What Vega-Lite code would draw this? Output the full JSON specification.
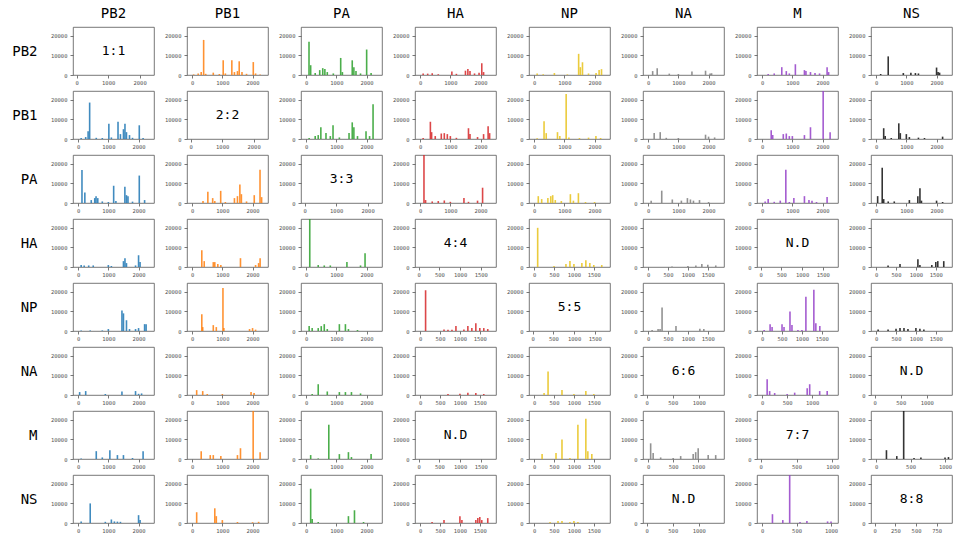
{
"$schema":"https://vega.github.io/schema/vega-lite/v6.json",
"autosize":{"type":"pad"},
"padding":{"left":11,"top":6,"right":0,"bottom":0},
"background":"white",
"columns":8,
"spacing":{"row":16,"column":33},
"bounds":"flush",
"data":{"values":[
{"r":"PB2","c":"PB2","t":"1:1"},{"r":"PB1","c":"PB1","t":"2:2"},{"r":"PA","c":"PA","t":"3:3"},{"r":"HA","c":"HA","t":"4:4"},{"r":"NP","c":"NP","t":"5:5"},{"r":"NA","c":"NA","t":"6:6"},{"r":"M","c":"M","t":"7:7"},{"r":"NS","c":"NS","t":"8:8"},
{"r":"HA","c":"M","t":"N.D"},{"r":"NA","c":"NS","t":"N.D"},{"r":"M","c":"HA","t":"N.D"},{"r":"NS","c":"NA","t":"N.D"},
{"r":"PB2","c":"PB1","x":50,"y":300},{"r":"PB2","c":"PB1","x":200,"y":800},{"r":"PB2","c":"PB1","x":300,"y":1500},{"r":"PB2","c":"PB1","x":381,"y":17900},{"r":"PB2","c":"PB1","x":450,"y":600},{"r":"PB2","c":"PB1","x":700,"y":1200},{"r":"PB2","c":"PB1","x":900,"y":500},{"r":"PB2","c":"PB1","x":1028,"y":7500},{"r":"PB2","c":"PB1","x":1100,"y":800},{"r":"PB2","c":"PB1","x":1314,"y":7500},{"r":"PB2","c":"PB1","x":1400,"y":1500},{"r":"PB2","c":"PB1","x":1500,"y":2000},{"r":"PB2","c":"PB1","x":1558,"y":7000},{"r":"PB2","c":"PB1","x":1650,"y":1500},{"r":"PB2","c":"PB1","x":1800,"y":600},{"r":"PB2","c":"PB1","x":2024,"y":6600},{"r":"PB2","c":"PB1","x":2100,"y":800},{"r":"PB2","c":"PB1","x":2250,"y":300},
{"r":"PB2","c":"PA","x":95,"y":17000},{"r":"PB2","c":"PA","x":150,"y":5000},{"r":"PB2","c":"PA","x":300,"y":1000},{"r":"PB2","c":"PA","x":450,"y":2500},{"r":"PB2","c":"PA","x":550,"y":3500},{"r":"PB2","c":"PA","x":620,"y":3000},{"r":"PB2","c":"PA","x":700,"y":1500},{"r":"PB2","c":"PA","x":900,"y":800},{"r":"PB2","c":"PA","x":1144,"y":8700},{"r":"PB2","c":"PA","x":1200,"y":1500},{"r":"PB2","c":"PA","x":1526,"y":7500},{"r":"PB2","c":"PA","x":1580,"y":4000},{"r":"PB2","c":"PA","x":1650,"y":2000},{"r":"PB2","c":"PA","x":1800,"y":800},{"r":"PB2","c":"PA","x":2003,"y":13000},{"r":"PB2","c":"PA","x":2150,"y":1000},
{"r":"PB2","c":"HA","x":100,"y":800},{"r":"PB2","c":"HA","x":250,"y":700},{"r":"PB2","c":"HA","x":400,"y":900},{"r":"PB2","c":"HA","x":600,"y":400},{"r":"PB2","c":"HA","x":1050,"y":1800},{"r":"PB2","c":"HA","x":1200,"y":600},{"r":"PB2","c":"HA","x":1500,"y":2200},{"r":"PB2","c":"HA","x":1580,"y":3000},{"r":"PB2","c":"HA","x":1650,"y":2000},{"r":"PB2","c":"HA","x":1800,"y":800},{"r":"PB2","c":"HA","x":1950,"y":1200},{"r":"PB2","c":"HA","x":2040,"y":6000},{"r":"PB2","c":"HA","x":2100,"y":1500},
{"r":"PB2","c":"NP","x":100,"y":800},{"r":"PB2","c":"NP","x":300,"y":400},{"r":"PB2","c":"NP","x":670,"y":1000},{"r":"PB2","c":"NP","x":1100,"y":300},{"r":"PB2","c":"NP","x":1473,"y":10800},{"r":"PB2","c":"NP","x":1530,"y":4000},{"r":"PB2","c":"NP","x":1600,"y":6500},{"r":"PB2","c":"NP","x":1800,"y":800},{"r":"PB2","c":"NP","x":2050,"y":1000},{"r":"PB2","c":"NP","x":2150,"y":2500},{"r":"PB2","c":"NP","x":2230,"y":3000},
{"r":"PB2","c":"NA","x":150,"y":2000},{"r":"PB2","c":"NA","x":300,"y":3500},{"r":"PB2","c":"NA","x":700,"y":700},{"r":"PB2","c":"NA","x":1000,"y":500},{"r":"PB2","c":"NA","x":1450,"y":1800},{"r":"PB2","c":"NA","x":1900,"y":2200},{"r":"PB2","c":"NA","x":2050,"y":800},{"r":"PB2","c":"NA","x":2100,"y":900},
{"r":"PB2","c":"M","x":200,"y":500},{"r":"PB2","c":"M","x":400,"y":800},{"r":"PB2","c":"M","x":650,"y":4000},{"r":"PB2","c":"M","x":800,"y":2000},{"r":"PB2","c":"M","x":900,"y":800},{"r":"PB2","c":"M","x":1100,"y":5500},{"r":"PB2","c":"M","x":1400,"y":2500},{"r":"PB2","c":"M","x":1450,"y":2000},{"r":"PB2","c":"M","x":1600,"y":1500},{"r":"PB2","c":"M","x":1750,"y":1000},{"r":"PB2","c":"M","x":1900,"y":800},{"r":"PB2","c":"M","x":2150,"y":4000},{"r":"PB2","c":"M","x":2200,"y":1500},
{"r":"PB2","c":"NS","x":150,"y":500},{"r":"PB2","c":"NS","x":400,"y":9500},{"r":"PB2","c":"NS","x":900,"y":1000},{"r":"PB2","c":"NS","x":1150,"y":1200},{"r":"PB2","c":"NS","x":1300,"y":1000},{"r":"PB2","c":"NS","x":1400,"y":800},{"r":"PB2","c":"NS","x":2000,"y":3800},{"r":"PB2","c":"NS","x":2050,"y":1500},{"r":"PB2","c":"NS","x":2100,"y":1200},
{"r":"PB1","c":"PB2","x":100,"y":500},{"r":"PB1","c":"PB2","x":250,"y":1000},{"r":"PB1","c":"PB2","x":330,"y":4000},{"r":"PB1","c":"PB2","x":381,"y":18600},{"r":"PB1","c":"PB2","x":600,"y":600},{"r":"PB1","c":"PB2","x":800,"y":500},{"r":"PB1","c":"PB2","x":1017,"y":7800},{"r":"PB1","c":"PB2","x":1100,"y":800},{"r":"PB1","c":"PB2","x":1320,"y":8800},{"r":"PB1","c":"PB2","x":1400,"y":2500},{"r":"PB1","c":"PB2","x":1500,"y":5000},{"r":"PB1","c":"PB2","x":1550,"y":7800},{"r":"PB1","c":"PB2","x":1600,"y":3500},{"r":"PB1","c":"PB2","x":1700,"y":2000},{"r":"PB1","c":"PB2","x":1800,"y":600},{"r":"PB1","c":"PB2","x":2024,"y":7000},{"r":"PB1","c":"PB2","x":2150,"y":500},
{"r":"PB1","c":"PA","x":100,"y":500},{"r":"PB1","c":"PA","x":300,"y":1500},{"r":"PB1","c":"PA","x":400,"y":2000},{"r":"PB1","c":"PA","x":487,"y":6000},{"r":"PB1","c":"PA","x":657,"y":3000},{"r":"PB1","c":"PA","x":800,"y":1500},{"r":"PB1","c":"PA","x":890,"y":7000},{"r":"PB1","c":"PA","x":1100,"y":800},{"r":"PB1","c":"PA","x":1420,"y":3000},{"r":"PB1","c":"PA","x":1526,"y":8500},{"r":"PB1","c":"PA","x":1580,"y":6000},{"r":"PB1","c":"PA","x":1700,"y":1500},{"r":"PB1","c":"PA","x":1982,"y":4000},{"r":"PB1","c":"PA","x":2100,"y":1500},{"r":"PB1","c":"PA","x":2215,"y":17700},
{"r":"PB1","c":"HA","x":100,"y":500},{"r":"PB1","c":"HA","x":339,"y":8800},{"r":"PB1","c":"HA","x":380,"y":3500},{"r":"PB1","c":"HA","x":500,"y":1500},{"r":"PB1","c":"HA","x":700,"y":2800},{"r":"PB1","c":"HA","x":800,"y":3000},{"r":"PB1","c":"HA","x":900,"y":2500},{"r":"PB1","c":"HA","x":1000,"y":1500},{"r":"PB1","c":"HA","x":1200,"y":600},{"r":"PB1","c":"HA","x":1600,"y":5500},{"r":"PB1","c":"HA","x":1650,"y":2500},{"r":"PB1","c":"HA","x":1900,"y":1000},{"r":"PB1","c":"HA","x":2100,"y":2500},{"r":"PB1","c":"HA","x":2250,"y":6500},{"r":"PB1","c":"HA","x":2300,"y":3000},
{"r":"PB1","c":"NP","x":100,"y":400},{"r":"PB1","c":"NP","x":328,"y":9100},{"r":"PB1","c":"NP","x":400,"y":3000},{"r":"PB1","c":"NP","x":773,"y":3500},{"r":"PB1","c":"NP","x":850,"y":1500},{"r":"PB1","c":"NP","x":1060,"y":23000},{"r":"PB1","c":"NP","x":1150,"y":800},{"r":"PB1","c":"NP","x":1500,"y":500},{"r":"PB1","c":"NP","x":1800,"y":700},{"r":"PB1","c":"NP","x":2045,"y":1500},{"r":"PB1","c":"NP","x":2200,"y":500},
{"r":"PB1","c":"NA","x":200,"y":3000},{"r":"PB1","c":"NA","x":400,"y":3500},{"r":"PB1","c":"NA","x":600,"y":600},{"r":"PB1","c":"NA","x":1000,"y":500},{"r":"PB1","c":"NA","x":1900,"y":2200},{"r":"PB1","c":"NA","x":2000,"y":1200},{"r":"PB1","c":"NA","x":2200,"y":800},
{"r":"PB1","c":"M","x":300,"y":4500},{"r":"PB1","c":"M","x":350,"y":2000},{"r":"PB1","c":"M","x":700,"y":2500},{"r":"PB1","c":"M","x":800,"y":2800},{"r":"PB1","c":"M","x":900,"y":1500},{"r":"PB1","c":"M","x":1000,"y":1500},{"r":"PB1","c":"M","x":1400,"y":2000},{"r":"PB1","c":"M","x":1600,"y":6000},{"r":"PB1","c":"M","x":2020,"y":25000},{"r":"PB1","c":"M","x":2250,"y":3500},
{"r":"PB1","c":"NS","x":250,"y":5500},{"r":"PB1","c":"NS","x":300,"y":1500},{"r":"PB1","c":"NS","x":500,"y":500},{"r":"PB1","c":"NS","x":750,"y":8000},{"r":"PB1","c":"NS","x":800,"y":3000},{"r":"PB1","c":"NS","x":1000,"y":2500},{"r":"PB1","c":"NS","x":1100,"y":1000},{"r":"PB1","c":"NS","x":1400,"y":700},{"r":"PB1","c":"NS","x":1600,"y":500},{"r":"PB1","c":"NS","x":2200,"y":1200},
{"r":"PA","c":"PB2","x":127,"y":16900},{"r":"PA","c":"PB2","x":222,"y":5300},{"r":"PA","c":"PB2","x":434,"y":1500},{"r":"PA","c":"PB2","x":550,"y":2500},{"r":"PA","c":"PB2","x":593,"y":3500},{"r":"PA","c":"PB2","x":650,"y":2500},{"r":"PA","c":"PB2","x":800,"y":800},{"r":"PA","c":"PB2","x":1000,"y":500},{"r":"PA","c":"PB2","x":1176,"y":8800},{"r":"PA","c":"PB2","x":1250,"y":1000},{"r":"PA","c":"PB2","x":1547,"y":8300},{"r":"PA","c":"PB2","x":1600,"y":4000},{"r":"PA","c":"PB2","x":1650,"y":3500},{"r":"PA","c":"PB2","x":1800,"y":700},{"r":"PA","c":"PB2","x":2024,"y":14000},{"r":"PA","c":"PB2","x":2200,"y":1500},
{"r":"PA","c":"PB1","x":360,"y":1000},{"r":"PA","c":"PB1","x":520,"y":5700},{"r":"PA","c":"PB1","x":680,"y":2500},{"r":"PA","c":"PB1","x":750,"y":1000},{"r":"PA","c":"PB1","x":945,"y":6200},{"r":"PA","c":"PB1","x":1100,"y":500},{"r":"PA","c":"PB1","x":1400,"y":2500},{"r":"PA","c":"PB1","x":1500,"y":3500},{"r":"PA","c":"PB1","x":1580,"y":9500},{"r":"PA","c":"PB1","x":1630,"y":4500},{"r":"PA","c":"PB1","x":1800,"y":800},{"r":"PA","c":"PB1","x":2056,"y":4000},{"r":"PA","c":"PB1","x":2247,"y":17000},{"r":"PA","c":"PB1","x":2300,"y":3000},
{"r":"PA","c":"HA","x":127,"y":25000},{"r":"PA","c":"HA","x":180,"y":1500},{"r":"PA","c":"HA","x":400,"y":800},{"r":"PA","c":"HA","x":600,"y":1000},{"r":"PA","c":"HA","x":800,"y":1300},{"r":"PA","c":"HA","x":1000,"y":600},{"r":"PA","c":"HA","x":1450,"y":2500},{"r":"PA","c":"HA","x":1600,"y":600},{"r":"PA","c":"HA","x":1900,"y":1200},{"r":"PA","c":"HA","x":2067,"y":7800},
{"r":"PA","c":"NP","x":137,"y":3500},{"r":"PA","c":"NP","x":250,"y":2000},{"r":"PA","c":"NP","x":455,"y":2500},{"r":"PA","c":"NP","x":550,"y":3500},{"r":"PA","c":"NP","x":614,"y":4000},{"r":"PA","c":"NP","x":700,"y":1500},{"r":"PA","c":"NP","x":900,"y":1000},{"r":"PA","c":"NP","x":1200,"y":4500},{"r":"PA","c":"NP","x":1300,"y":1200},{"r":"PA","c":"NP","x":1465,"y":5000},{"r":"PA","c":"NP","x":1700,"y":500},{"r":"PA","c":"NP","x":2000,"y":500},
{"r":"PA","c":"NA","x":100,"y":1200},{"r":"PA","c":"NA","x":450,"y":6300},{"r":"PA","c":"NA","x":800,"y":1800},{"r":"PA","c":"NA","x":1100,"y":1200},{"r":"PA","c":"NA","x":1300,"y":2500},{"r":"PA","c":"NA","x":1400,"y":1800},{"r":"PA","c":"NA","x":1500,"y":1200},{"r":"PA","c":"NA","x":1700,"y":1500},{"r":"PA","c":"NA","x":2000,"y":500},
{"r":"PA","c":"M","x":100,"y":800},{"r":"PA","c":"M","x":200,"y":2000},{"r":"PA","c":"M","x":400,"y":600},{"r":"PA","c":"M","x":600,"y":1200},{"r":"PA","c":"M","x":784,"y":17000},{"r":"PA","c":"M","x":900,"y":500},{"r":"PA","c":"M","x":1050,"y":2500},{"r":"PA","c":"M","x":1400,"y":3500},{"r":"PA","c":"M","x":1550,"y":1500},{"r":"PA","c":"M","x":1650,"y":1200},{"r":"PA","c":"M","x":1800,"y":500},{"r":"PA","c":"M","x":2150,"y":3000},
{"r":"PA","c":"NS","x":50,"y":3500},{"r":"PA","c":"NS","x":201,"y":18000},{"r":"PA","c":"NS","x":250,"y":2000},{"r":"PA","c":"NS","x":400,"y":800},{"r":"PA","c":"NS","x":600,"y":800},{"r":"PA","c":"NS","x":1100,"y":1500},{"r":"PA","c":"NS","x":1380,"y":3500},{"r":"PA","c":"NS","x":1450,"y":7500},{"r":"PA","c":"NS","x":1500,"y":1200},{"r":"PA","c":"NS","x":2000,"y":1200},{"r":"PA","c":"NS","x":2200,"y":500},
{"r":"HA","c":"PB2","x":100,"y":1000},{"r":"HA","c":"PB2","x":200,"y":800},{"r":"HA","c":"PB2","x":350,"y":800},{"r":"HA","c":"PB2","x":500,"y":800},{"r":"HA","c":"PB2","x":1000,"y":1000},{"r":"HA","c":"PB2","x":1100,"y":500},{"r":"HA","c":"PB2","x":1500,"y":3000},{"r":"HA","c":"PB2","x":1550,"y":4500},{"r":"HA","c":"PB2","x":1600,"y":2000},{"r":"HA","c":"PB2","x":1900,"y":800},{"r":"HA","c":"PB2","x":2000,"y":6000},{"r":"HA","c":"PB2","x":2050,"y":2500},
{"r":"HA","c":"PB1","x":320,"y":8500},{"r":"HA","c":"PB1","x":400,"y":3000},{"r":"HA","c":"PB1","x":700,"y":2500},{"r":"HA","c":"PB1","x":750,"y":2500},{"r":"HA","c":"PB1","x":850,"y":1500},{"r":"HA","c":"PB1","x":950,"y":1000},{"r":"HA","c":"PB1","x":1600,"y":4500},{"r":"HA","c":"PB1","x":2100,"y":1000},{"r":"HA","c":"PB1","x":2200,"y":2000},{"r":"HA","c":"PB1","x":2250,"y":4500},
{"r":"HA","c":"PA","x":120,"y":25000},{"r":"HA","c":"PA","x":400,"y":1000},{"r":"HA","c":"PA","x":600,"y":800},{"r":"HA","c":"PA","x":800,"y":800},{"r":"HA","c":"PA","x":1350,"y":2500},{"r":"HA","c":"PA","x":1800,"y":800},{"r":"HA","c":"PA","x":1950,"y":7000},
{"r":"HA","c":"NP","x":89,"y":20000},{"r":"HA","c":"NP","x":500,"y":500},{"r":"HA","c":"NP","x":800,"y":1500},{"r":"HA","c":"NP","x":900,"y":3000},{"r":"HA","c":"NP","x":1000,"y":1500},{"r":"HA","c":"NP","x":1200,"y":2000},{"r":"HA","c":"NP","x":1300,"y":3500},{"r":"HA","c":"NP","x":1400,"y":2000},{"r":"HA","c":"NP","x":1500,"y":1000},{"r":"HA","c":"NP","x":1700,"y":1000},
{"r":"HA","c":"NA","x":600,"y":300},{"r":"HA","c":"NA","x":1000,"y":500},{"r":"HA","c":"NA","x":1200,"y":800},{"r":"HA","c":"NA","x":1350,"y":1500},{"r":"HA","c":"NA","x":1500,"y":1200},{"r":"HA","c":"NA","x":1700,"y":800},
{"r":"HA","c":"NS","x":300,"y":800},{"r":"HA","c":"NS","x":600,"y":1500},{"r":"HA","c":"NS","x":1050,"y":4000},{"r":"HA","c":"NS","x":1100,"y":1000},{"r":"HA","c":"NS","x":1400,"y":1000},{"r":"HA","c":"NS","x":1500,"y":2500},{"r":"HA","c":"NS","x":1550,"y":3000},{"r":"HA","c":"NS","x":1700,"y":3000},
{"r":"NP","c":"PB2","x":100,"y":300},{"r":"NP","c":"PB2","x":400,"y":300},{"r":"NP","c":"PB2","x":800,"y":300},{"r":"NP","c":"PB2","x":1000,"y":1000},{"r":"NP","c":"PB2","x":1450,"y":10500},{"r":"NP","c":"PB2","x":1500,"y":9000},{"r":"NP","c":"PB2","x":1600,"y":5500},{"r":"NP","c":"PB2","x":1700,"y":1000},{"r":"NP","c":"PB2","x":1900,"y":1000},{"r":"NP","c":"PB2","x":2000,"y":1500},{"r":"NP","c":"PB2","x":2200,"y":3500},{"r":"NP","c":"PB2","x":2250,"y":3500},
{"r":"NP","c":"PB1","x":320,"y":8500},{"r":"NP","c":"PB1","x":350,"y":2000},{"r":"NP","c":"PB1","x":700,"y":3000},{"r":"NP","c":"PB1","x":800,"y":2000},{"r":"NP","c":"PB1","x":1020,"y":22000},{"r":"NP","c":"PB1","x":1050,"y":1500},{"r":"NP","c":"PB1","x":1900,"y":1000},{"r":"NP","c":"PB1","x":2000,"y":1500},{"r":"NP","c":"PB1","x":2100,"y":700},
{"r":"NP","c":"PA","x":100,"y":2500},{"r":"NP","c":"PA","x":200,"y":1500},{"r":"NP","c":"PA","x":400,"y":1500},{"r":"NP","c":"PA","x":500,"y":2500},{"r":"NP","c":"PA","x":600,"y":3500},{"r":"NP","c":"PA","x":700,"y":1000},{"r":"NP","c":"PA","x":1100,"y":3500},{"r":"NP","c":"PA","x":1300,"y":3500},{"r":"NP","c":"PA","x":1400,"y":1000},{"r":"NP","c":"PA","x":1700,"y":500},
{"r":"NP","c":"HA","x":137,"y":20800},{"r":"NP","c":"HA","x":600,"y":800},{"r":"NP","c":"HA","x":700,"y":600},{"r":"NP","c":"HA","x":800,"y":700},{"r":"NP","c":"HA","x":900,"y":2500},{"r":"NP","c":"HA","x":1100,"y":800},{"r":"NP","c":"HA","x":1200,"y":2500},{"r":"NP","c":"HA","x":1300,"y":1500},{"r":"NP","c":"HA","x":1400,"y":4000},{"r":"NP","c":"HA","x":1500,"y":1500},{"r":"NP","c":"HA","x":1600,"y":1500},{"r":"NP","c":"HA","x":1700,"y":1000},
{"r":"NP","c":"NA","x":100,"y":500},{"r":"NP","c":"NA","x":250,"y":1000},{"r":"NP","c":"NA","x":300,"y":1000},{"r":"NP","c":"NA","x":350,"y":12000},{"r":"NP","c":"NA","x":700,"y":2500},{"r":"NP","c":"NA","x":1300,"y":1200},{"r":"NP","c":"NA","x":1400,"y":1000},
{"r":"NP","c":"M","x":50,"y":500},{"r":"NP","c":"M","x":200,"y":3500},{"r":"NP","c":"M","x":250,"y":2000},{"r":"NP","c":"M","x":500,"y":3500},{"r":"NP","c":"M","x":550,"y":2000},{"r":"NP","c":"M","x":700,"y":10000},{"r":"NP","c":"M","x":750,"y":3000},{"r":"NP","c":"M","x":900,"y":500},{"r":"NP","c":"M","x":1000,"y":500},{"r":"NP","c":"M","x":1100,"y":17500},{"r":"NP","c":"M","x":1300,"y":21000},{"r":"NP","c":"M","x":1350,"y":4000},{"r":"NP","c":"M","x":1450,"y":2500},
{"r":"NP","c":"NS","x":50,"y":800},{"r":"NP","c":"NS","x":300,"y":800},{"r":"NP","c":"NS","x":500,"y":1200},{"r":"NP","c":"NS","x":600,"y":1500},{"r":"NP","c":"NS","x":700,"y":1500},{"r":"NP","c":"NS","x":800,"y":1000},{"r":"NP","c":"NS","x":1000,"y":1500},{"r":"NP","c":"NS","x":1100,"y":1200},{"r":"NP","c":"NS","x":1200,"y":800},
{"r":"NA","c":"PB2","x":50,"y":1500},{"r":"NA","c":"PB2","x":250,"y":2000},{"r":"NA","c":"PB2","x":900,"y":500},{"r":"NA","c":"PB2","x":1450,"y":1800},{"r":"NA","c":"PB2","x":1900,"y":2000},{"r":"NA","c":"PB2","x":2000,"y":600},{"r":"NA","c":"PB2","x":2100,"y":800},
{"r":"NA","c":"PB1","x":150,"y":2500},{"r":"NA","c":"PB1","x":350,"y":2000},{"r":"NA","c":"PB1","x":500,"y":500},{"r":"NA","c":"PB1","x":1000,"y":500},{"r":"NA","c":"PB1","x":1950,"y":1500},{"r":"NA","c":"PB1","x":2050,"y":1000},
{"r":"NA","c":"PA","x":200,"y":500},{"r":"NA","c":"PA","x":400,"y":5500},{"r":"NA","c":"PA","x":700,"y":1800},{"r":"NA","c":"PA","x":1100,"y":1500},{"r":"NA","c":"PA","x":1300,"y":1500},{"r":"NA","c":"PA","x":1500,"y":1500},{"r":"NA","c":"PA","x":1800,"y":800},
{"r":"NA","c":"HA","x":700,"y":500},{"r":"NA","c":"HA","x":1000,"y":600},{"r":"NA","c":"HA","x":1200,"y":1200},{"r":"NA","c":"HA","x":1400,"y":1000},{"r":"NA","c":"HA","x":1600,"y":500},
{"r":"NA","c":"NP","x":250,"y":1000},{"r":"NA","c":"NP","x":350,"y":12000},{"r":"NA","c":"NP","x":700,"y":2500},{"r":"NA","c":"NP","x":1000,"y":500},{"r":"NA","c":"NP","x":1300,"y":2000},{"r":"NA","c":"NP","x":1500,"y":500},
{"r":"NA","c":"M","x":100,"y":8000},{"r":"NA","c":"M","x":150,"y":2000},{"r":"NA","c":"M","x":250,"y":1000},{"r":"NA","c":"M","x":500,"y":500},{"r":"NA","c":"M","x":650,"y":1200},{"r":"NA","c":"M","x":900,"y":3500},{"r":"NA","c":"M","x":950,"y":5500},{"r":"NA","c":"M","x":1150,"y":2000},{"r":"NA","c":"M","x":1300,"y":2000},
{"r":"M","c":"PB2","x":100,"y":300},{"r":"M","c":"PB2","x":600,"y":4000},{"r":"M","c":"PB2","x":800,"y":800},{"r":"M","c":"PB2","x":1050,"y":4500},{"r":"M","c":"PB2","x":1300,"y":2000},{"r":"M","c":"PB2","x":1500,"y":2000},{"r":"M","c":"PB2","x":1800,"y":500},{"r":"M","c":"PB2","x":2150,"y":4000},
{"r":"M","c":"PB1","x":300,"y":4000},{"r":"M","c":"PB1","x":600,"y":2000},{"r":"M","c":"PB1","x":700,"y":2000},{"r":"M","c":"PB1","x":950,"y":1500},{"r":"M","c":"PB1","x":1500,"y":2000},{"r":"M","c":"PB1","x":1600,"y":5500},{"r":"M","c":"PB1","x":2020,"y":25000},{"r":"M","c":"PB1","x":2250,"y":3500},
{"r":"M","c":"PA","x":150,"y":2000},{"r":"M","c":"PA","x":400,"y":300},{"r":"M","c":"PA","x":750,"y":17500},{"r":"M","c":"PA","x":1100,"y":2500},{"r":"M","c":"PA","x":1400,"y":3500},{"r":"M","c":"PA","x":1500,"y":1000},{"r":"M","c":"PA","x":2150,"y":2500},
{"r":"M","c":"NP","x":200,"y":2500},{"r":"M","c":"NP","x":550,"y":3000},{"r":"M","c":"NP","x":700,"y":10000},{"r":"M","c":"NP","x":900,"y":500},{"r":"M","c":"NP","x":1100,"y":17500},{"r":"M","c":"NP","x":1300,"y":20500},{"r":"M","c":"NP","x":1350,"y":4000},{"r":"M","c":"NP","x":1450,"y":2500},
{"r":"M","c":"NA","x":50,"y":8000},{"r":"M","c":"NA","x":100,"y":3000},{"r":"M","c":"NA","x":250,"y":800},{"r":"M","c":"NA","x":500,"y":500},{"r":"M","c":"NA","x":650,"y":1500},{"r":"M","c":"NA","x":900,"y":2500},{"r":"M","c":"NA","x":950,"y":3500},{"r":"M","c":"NA","x":1000,"y":5500},{"r":"M","c":"NA","x":1200,"y":2000},{"r":"M","c":"NA","x":1350,"y":2000},
{"r":"M","c":"NS","x":150,"y":4500},{"r":"M","c":"NS","x":300,"y":1500},{"r":"M","c":"NS","x":400,"y":25000},{"r":"M","c":"NS","x":550,"y":500},{"r":"M","c":"NS","x":650,"y":800},{"r":"M","c":"NS","x":1000,"y":800},{"r":"M","c":"NS","x":1050,"y":1000},
{"r":"NS","c":"PB2","x":100,"y":800},{"r":"NS","c":"PB2","x":400,"y":10000},{"r":"NS","c":"PB2","x":900,"y":600},{"r":"NS","c":"PB2","x":1100,"y":1800},{"r":"NS","c":"PB2","x":1200,"y":800},{"r":"NS","c":"PB2","x":1300,"y":700},{"r":"NS","c":"PB2","x":1400,"y":600},{"r":"NS","c":"PB2","x":2000,"y":4000},{"r":"NS","c":"PB2","x":2050,"y":1500},
{"r":"NS","c":"PB1","x":150,"y":5500},{"r":"NS","c":"PB1","x":750,"y":7500},{"r":"NS","c":"PB1","x":800,"y":3500},{"r":"NS","c":"PB1","x":1000,"y":1500},{"r":"NS","c":"PB1","x":1500,"y":500},{"r":"NS","c":"PB1","x":2000,"y":400},{"r":"NS","c":"PB1","x":2200,"y":600},
{"r":"NS","c":"PA","x":150,"y":17500},{"r":"NS","c":"PA","x":200,"y":2000},{"r":"NS","c":"PA","x":400,"y":500},{"r":"NS","c":"PA","x":1400,"y":3500},{"r":"NS","c":"PA","x":1600,"y":6500},{"r":"NS","c":"PA","x":1900,"y":500},
{"r":"NS","c":"HA","x":300,"y":500},{"r":"NS","c":"HA","x":600,"y":1500},{"r":"NS","c":"HA","x":1000,"y":3500},{"r":"NS","c":"HA","x":1050,"y":1500},{"r":"NS","c":"HA","x":1400,"y":1500},{"r":"NS","c":"HA","x":1450,"y":2500},{"r":"NS","c":"HA","x":1500,"y":3000},{"r":"NS","c":"HA","x":1550,"y":1500},{"r":"NS","c":"HA","x":1700,"y":2500},
{"r":"NS","c":"NP","x":400,"y":500},{"r":"NS","c":"NP","x":600,"y":1000},{"r":"NS","c":"NP","x":700,"y":1000},{"r":"NS","c":"NP","x":900,"y":500},{"r":"NS","c":"NP","x":1000,"y":1000},{"r":"NS","c":"NP","x":1100,"y":500},
{"r":"NS","c":"M","x":150,"y":4500},{"r":"NS","c":"M","x":300,"y":1500},{"r":"NS","c":"M","x":400,"y":25000},{"r":"NS","c":"M","x":550,"y":500},{"r":"NS","c":"M","x":650,"y":1000},{"r":"NS","c":"M","x":950,"y":800},{"r":"NS","c":"M","x":1000,"y":800}
]},
"concat":[
{"title":"PB2","transform":[{"filter":"datum.r=='PB2'&&datum.c=='PB2'"}],"mark":{"type":"text","fontSize":13,"font":"DejaVu Sans Mono"},"encoding":{"text":{"field":"t"},"x":{"datum":1170,"type":"quantitative","scale":{"domain":[-117,2458],"nice":false},"axis":{"values":[0,1000,2000],"title":null}},"y":{"datum":12250,"type":"quantitative","scale":{"domain":[0,24500],"nice":false},"axis":{"title":"PB2"}}}},
{"title":"PB1","transform":[{"filter":"datum.r=='PB2'&&datum.c=='PB1'"}],"mark":{"type":"bar","color":"#ff7f0e","clip":true},"encoding":{"x":{"field":"x","type":"quantitative","scale":{"domain":[-117,2458],"nice":false},"axis":{"values":[0,1000,2000],"title":null}},"y":{"field":"y","type":"quantitative","scale":{"domain":[0,24500],"nice":false},"axis":{"title":null}}}},
{"title":"PA","transform":[{"filter":"datum.r=='PB2'&&datum.c=='PA'"}],"mark":{"type":"bar","color":"#2ca02c","clip":true},"encoding":{"x":{"field":"x","type":"quantitative","scale":{"domain":[-117,2458],"nice":false},"axis":{"values":[0,1000,2000],"title":null}},"y":{"field":"y","type":"quantitative","scale":{"domain":[0,24500],"nice":false},"axis":{"title":null}}}},
{"title":"HA","transform":[{"filter":"datum.r=='PB2'&&datum.c=='HA'"}],"mark":{"type":"bar","color":"#d62728","clip":true},"encoding":{"x":{"field":"x","type":"quantitative","scale":{"domain":[-117,2458],"nice":false},"axis":{"values":[0,1000,2000],"title":null}},"y":{"field":"y","type":"quantitative","scale":{"domain":[0,24500],"nice":false},"axis":{"title":null}}}},
{"title":"NP","transform":[{"filter":"datum.r=='PB2'&&datum.c=='NP'"}],"mark":{"type":"bar","color":"#e8c21a","clip":true},"encoding":{"x":{"field":"x","type":"quantitative","scale":{"domain":[-117,2458],"nice":false},"axis":{"values":[0,1000,2000],"title":null}},"y":{"field":"y","type":"quantitative","scale":{"domain":[0,24500],"nice":false},"axis":{"title":null}}}},
{"title":"NA","transform":[{"filter":"datum.r=='PB2'&&datum.c=='NA'"}],"mark":{"type":"bar","color":"#7f7f7f","clip":true},"encoding":{"x":{"field":"x","type":"quantitative","scale":{"domain":[-117,2458],"nice":false},"axis":{"values":[0,1000,2000],"title":null}},"y":{"field":"y","type":"quantitative","scale":{"domain":[0,24500],"nice":false},"axis":{"title":null}}}},
{"title":"M","transform":[{"filter":"datum.r=='PB2'&&datum.c=='M'"}],"mark":{"type":"bar","color":"#9440c8","clip":true},"encoding":{"x":{"field":"x","type":"quantitative","scale":{"domain":[-117,2458],"nice":false},"axis":{"values":[0,1000,2000],"title":null}},"y":{"field":"y","type":"quantitative","scale":{"domain":[0,24500],"nice":false},"axis":{"title":null}}}},
{"title":"NS","transform":[{"filter":"datum.r=='PB2'&&datum.c=='NS'"}],"mark":{"type":"bar","color":"#111111","clip":true},"encoding":{"x":{"field":"x","type":"quantitative","scale":{"domain":[-117,2458],"nice":false},"axis":{"values":[0,1000,2000],"title":null}},"y":{"field":"y","type":"quantitative","scale":{"domain":[0,24500],"nice":false},"axis":{"title":null}}}},

{"transform":[{"filter":"datum.r=='PB1'&&datum.c=='PB2'"}],"mark":{"type":"bar","color":"#1f77b4","clip":true},"encoding":{"x":{"field":"x","type":"quantitative","scale":{"domain":[-117,2458],"nice":false},"axis":{"values":[0,1000,2000],"title":null}},"y":{"field":"y","type":"quantitative","scale":{"domain":[0,24500],"nice":false},"axis":{"title":"PB1"}}}},
{"transform":[{"filter":"datum.r=='PB1'&&datum.c=='PB1'"}],"mark":{"type":"text","fontSize":13,"font":"DejaVu Sans Mono"},"encoding":{"text":{"field":"t"},"x":{"datum":1170,"type":"quantitative","scale":{"domain":[-117,2458],"nice":false},"axis":{"values":[0,1000,2000],"title":null}},"y":{"datum":12250,"type":"quantitative","scale":{"domain":[0,24500],"nice":false},"axis":{"title":null}}}},
{"transform":[{"filter":"datum.r=='PB1'&&datum.c=='PA'"}],"mark":{"type":"bar","color":"#2ca02c","clip":true},"encoding":{"x":{"field":"x","type":"quantitative","scale":{"domain":[-117,2458],"nice":false},"axis":{"values":[0,1000,2000],"title":null}},"y":{"field":"y","type":"quantitative","scale":{"domain":[0,24500],"nice":false},"axis":{"title":null}}}},
{"transform":[{"filter":"datum.r=='PB1'&&datum.c=='HA'"}],"mark":{"type":"bar","color":"#d62728","clip":true},"encoding":{"x":{"field":"x","type":"quantitative","scale":{"domain":[-117,2458],"nice":false},"axis":{"values":[0,1000,2000],"title":null}},"y":{"field":"y","type":"quantitative","scale":{"domain":[0,24500],"nice":false},"axis":{"title":null}}}},
{"transform":[{"filter":"datum.r=='PB1'&&datum.c=='NP'"}],"mark":{"type":"bar","color":"#e8c21a","clip":true},"encoding":{"x":{"field":"x","type":"quantitative","scale":{"domain":[-117,2458],"nice":false},"axis":{"values":[0,1000,2000],"title":null}},"y":{"field":"y","type":"quantitative","scale":{"domain":[0,24500],"nice":false},"axis":{"title":null}}}},
{"transform":[{"filter":"datum.r=='PB1'&&datum.c=='NA'"}],"mark":{"type":"bar","color":"#7f7f7f","clip":true},"encoding":{"x":{"field":"x","type":"quantitative","scale":{"domain":[-117,2458],"nice":false},"axis":{"values":[0,1000,2000],"title":null}},"y":{"field":"y","type":"quantitative","scale":{"domain":[0,24500],"nice":false},"axis":{"title":null}}}},
{"transform":[{"filter":"datum.r=='PB1'&&datum.c=='M'"}],"mark":{"type":"bar","color":"#9440c8","clip":true},"encoding":{"x":{"field":"x","type":"quantitative","scale":{"domain":[-117,2458],"nice":false},"axis":{"values":[0,1000,2000],"title":null}},"y":{"field":"y","type":"quantitative","scale":{"domain":[0,24500],"nice":false},"axis":{"title":null}}}},
{"transform":[{"filter":"datum.r=='PB1'&&datum.c=='NS'"}],"mark":{"type":"bar","color":"#111111","clip":true},"encoding":{"x":{"field":"x","type":"quantitative","scale":{"domain":[-117,2458],"nice":false},"axis":{"values":[0,1000,2000],"title":null}},"y":{"field":"y","type":"quantitative","scale":{"domain":[0,24500],"nice":false},"axis":{"title":null}}}},

{"transform":[{"filter":"datum.r=='PA'&&datum.c=='PB2'"}],"mark":{"type":"bar","color":"#1f77b4","clip":true},"encoding":{"x":{"field":"x","type":"quantitative","scale":{"domain":[-117,2458],"nice":false},"axis":{"values":[0,1000,2000],"title":null}},"y":{"field":"y","type":"quantitative","scale":{"domain":[0,24500],"nice":false},"axis":{"title":"PA"}}}},
{"transform":[{"filter":"datum.r=='PA'&&datum.c=='PB1'"}],"mark":{"type":"bar","color":"#ff7f0e","clip":true},"encoding":{"x":{"field":"x","type":"quantitative","scale":{"domain":[-117,2458],"nice":false},"axis":{"values":[0,1000,2000],"title":null}},"y":{"field":"y","type":"quantitative","scale":{"domain":[0,24500],"nice":false},"axis":{"title":null}}}},
{"transform":[{"filter":"datum.r=='PA'&&datum.c=='PA'"}],"mark":{"type":"text","fontSize":13,"font":"DejaVu Sans Mono"},"encoding":{"text":{"field":"t"},"x":{"datum":1170,"type":"quantitative","scale":{"domain":[-117,2458],"nice":false},"axis":{"values":[0,1000,2000],"title":null}},"y":{"datum":12250,"type":"quantitative","scale":{"domain":[0,24500],"nice":false},"axis":{"title":null}}}},
{"transform":[{"filter":"datum.r=='PA'&&datum.c=='HA'"}],"mark":{"type":"bar","color":"#d62728","clip":true},"encoding":{"x":{"field":"x","type":"quantitative","scale":{"domain":[-117,2458],"nice":false},"axis":{"values":[0,1000,2000],"title":null}},"y":{"field":"y","type":"quantitative","scale":{"domain":[0,24500],"nice":false},"axis":{"title":null}}}},
{"transform":[{"filter":"datum.r=='PA'&&datum.c=='NP'"}],"mark":{"type":"bar","color":"#e8c21a","clip":true},"encoding":{"x":{"field":"x","type":"quantitative","scale":{"domain":[-117,2458],"nice":false},"axis":{"values":[0,1000,2000],"title":null}},"y":{"field":"y","type":"quantitative","scale":{"domain":[0,24500],"nice":false},"axis":{"title":null}}}},
{"transform":[{"filter":"datum.r=='PA'&&datum.c=='NA'"}],"mark":{"type":"bar","color":"#7f7f7f","clip":true},"encoding":{"x":{"field":"x","type":"quantitative","scale":{"domain":[-117,2458],"nice":false},"axis":{"values":[0,1000,2000],"title":null}},"y":{"field":"y","type":"quantitative","scale":{"domain":[0,24500],"nice":false},"axis":{"title":null}}}},
{"transform":[{"filter":"datum.r=='PA'&&datum.c=='M'"}],"mark":{"type":"bar","color":"#9440c8","clip":true},"encoding":{"x":{"field":"x","type":"quantitative","scale":{"domain":[-117,2458],"nice":false},"axis":{"values":[0,1000,2000],"title":null}},"y":{"field":"y","type":"quantitative","scale":{"domain":[0,24500],"nice":false},"axis":{"title":null}}}},
{"transform":[{"filter":"datum.r=='PA'&&datum.c=='NS'"}],"mark":{"type":"bar","color":"#111111","clip":true},"encoding":{"x":{"field":"x","type":"quantitative","scale":{"domain":[-117,2458],"nice":false},"axis":{"values":[0,1000,2000],"title":null}},"y":{"field":"y","type":"quantitative","scale":{"domain":[0,24500],"nice":false},"axis":{"title":null}}}},

{"transform":[{"filter":"datum.r=='HA'&&datum.c=='PB2'"}],"mark":{"type":"bar","color":"#1f77b4","clip":true},"encoding":{"x":{"field":"x","type":"quantitative","scale":{"domain":[-117,2458],"nice":false},"axis":{"values":[0,1000,2000],"title":null}},"y":{"field":"y","type":"quantitative","scale":{"domain":[0,24500],"nice":false},"axis":{"title":"HA"}}}},
{"transform":[{"filter":"datum.r=='HA'&&datum.c=='PB1'"}],"mark":{"type":"bar","color":"#ff7f0e","clip":true},"encoding":{"x":{"field":"x","type":"quantitative","scale":{"domain":[-117,2458],"nice":false},"axis":{"values":[0,1000,2000],"title":null}},"y":{"field":"y","type":"quantitative","scale":{"domain":[0,24500],"nice":false},"axis":{"title":null}}}},
{"transform":[{"filter":"datum.r=='HA'&&datum.c=='PA'"}],"mark":{"type":"bar","color":"#2ca02c","clip":true},"encoding":{"x":{"field":"x","type":"quantitative","scale":{"domain":[-117,2458],"nice":false},"axis":{"values":[0,1000,2000],"title":null}},"y":{"field":"y","type":"quantitative","scale":{"domain":[0,24500],"nice":false},"axis":{"title":null}}}},
{"transform":[{"filter":"datum.r=='HA'&&datum.c=='HA'"}],"mark":{"type":"text","fontSize":13,"font":"DejaVu Sans Mono"},"encoding":{"text":{"field":"t"},"x":{"datum":889,"type":"quantitative","scale":{"domain":[-89,1867],"nice":false},"axis":{"values":[0,500,1000,1500],"title":null}},"y":{"datum":12250,"type":"quantitative","scale":{"domain":[0,24500],"nice":false},"axis":{"title":null}}}},
{"transform":[{"filter":"datum.r=='HA'&&datum.c=='NP'"}],"mark":{"type":"bar","color":"#e8c21a","clip":true},"encoding":{"x":{"field":"x","type":"quantitative","scale":{"domain":[-89,1867],"nice":false},"axis":{"values":[0,500,1000,1500],"title":null}},"y":{"field":"y","type":"quantitative","scale":{"domain":[0,24500],"nice":false},"axis":{"title":null}}}},
{"transform":[{"filter":"datum.r=='HA'&&datum.c=='NA'"}],"mark":{"type":"bar","color":"#7f7f7f","clip":true},"encoding":{"x":{"field":"x","type":"quantitative","scale":{"domain":[-89,1867],"nice":false},"axis":{"values":[0,500,1000,1500],"title":null}},"y":{"field":"y","type":"quantitative","scale":{"domain":[0,24500],"nice":false},"axis":{"title":null}}}},
{"transform":[{"filter":"datum.r=='HA'&&datum.c=='M'"}],"mark":{"type":"text","fontSize":13,"font":"DejaVu Sans Mono"},"encoding":{"text":{"field":"t"},"x":{"datum":889,"type":"quantitative","scale":{"domain":[-89,1867],"nice":false},"axis":{"values":[0,500,1000,1500],"title":null}},"y":{"datum":12250,"type":"quantitative","scale":{"domain":[0,24500],"nice":false},"axis":{"title":null}}}},
{"transform":[{"filter":"datum.r=='HA'&&datum.c=='NS'"}],"mark":{"type":"bar","color":"#111111","clip":true},"encoding":{"x":{"field":"x","type":"quantitative","scale":{"domain":[-89,1867],"nice":false},"axis":{"values":[0,500,1000,1500],"title":null}},"y":{"field":"y","type":"quantitative","scale":{"domain":[0,24500],"nice":false},"axis":{"title":null}}}},

{"transform":[{"filter":"datum.r=='NP'&&datum.c=='PB2'"}],"mark":{"type":"bar","color":"#1f77b4","clip":true},"encoding":{"x":{"field":"x","type":"quantitative","scale":{"domain":[-117,2458],"nice":false},"axis":{"values":[0,1000,2000],"title":null}},"y":{"field":"y","type":"quantitative","scale":{"domain":[0,24500],"nice":false},"axis":{"title":"NP"}}}},
{"transform":[{"filter":"datum.r=='NP'&&datum.c=='PB1'"}],"mark":{"type":"bar","color":"#ff7f0e","clip":true},"encoding":{"x":{"field":"x","type":"quantitative","scale":{"domain":[-117,2458],"nice":false},"axis":{"values":[0,1000,2000],"title":null}},"y":{"field":"y","type":"quantitative","scale":{"domain":[0,24500],"nice":false},"axis":{"title":null}}}},
{"transform":[{"filter":"datum.r=='NP'&&datum.c=='PA'"}],"mark":{"type":"bar","color":"#2ca02c","clip":true},"encoding":{"x":{"field":"x","type":"quantitative","scale":{"domain":[-117,2458],"nice":false},"axis":{"values":[0,1000,2000],"title":null}},"y":{"field":"y","type":"quantitative","scale":{"domain":[0,24500],"nice":false},"axis":{"title":null}}}},
{"transform":[{"filter":"datum.r=='NP'&&datum.c=='HA'"}],"mark":{"type":"bar","color":"#d62728","clip":true},"encoding":{"x":{"field":"x","type":"quantitative","scale":{"domain":[-89,1867],"nice":false},"axis":{"values":[0,500,1000,1500],"title":null}},"y":{"field":"y","type":"quantitative","scale":{"domain":[0,24500],"nice":false},"axis":{"title":null}}}},
{"transform":[{"filter":"datum.r=='NP'&&datum.c=='NP'"}],"mark":{"type":"text","fontSize":13,"font":"DejaVu Sans Mono"},"encoding":{"text":{"field":"t"},"x":{"datum":889,"type":"quantitative","scale":{"domain":[-89,1867],"nice":false},"axis":{"values":[0,500,1000,1500],"title":null}},"y":{"datum":12250,"type":"quantitative","scale":{"domain":[0,24500],"nice":false},"axis":{"title":null}}}},
{"transform":[{"filter":"datum.r=='NP'&&datum.c=='NA'"}],"mark":{"type":"bar","color":"#7f7f7f","clip":true},"encoding":{"x":{"field":"x","type":"quantitative","scale":{"domain":[-89,1867],"nice":false},"axis":{"values":[0,500,1000,1500],"title":null}},"y":{"field":"y","type":"quantitative","scale":{"domain":[0,24500],"nice":false},"axis":{"title":null}}}},
{"transform":[{"filter":"datum.r=='NP'&&datum.c=='M'"}],"mark":{"type":"bar","color":"#9440c8","clip":true},"encoding":{"x":{"field":"x","type":"quantitative","scale":{"domain":[-89,1867],"nice":false},"axis":{"values":[0,500,1000,1500],"title":null}},"y":{"field":"y","type":"quantitative","scale":{"domain":[0,24500],"nice":false},"axis":{"title":null}}}},
{"transform":[{"filter":"datum.r=='NP'&&datum.c=='NS'"}],"mark":{"type":"bar","color":"#111111","clip":true},"encoding":{"x":{"field":"x","type":"quantitative","scale":{"domain":[-89,1867],"nice":false},"axis":{"values":[0,500,1000,1500],"title":null}},"y":{"field":"y","type":"quantitative","scale":{"domain":[0,24500],"nice":false},"axis":{"title":null}}}},

{"transform":[{"filter":"datum.r=='NA'&&datum.c=='PB2'"}],"mark":{"type":"bar","color":"#1f77b4","clip":true},"encoding":{"x":{"field":"x","type":"quantitative","scale":{"domain":[-117,2458],"nice":false},"axis":{"values":[0,1000,2000],"title":null}},"y":{"field":"y","type":"quantitative","scale":{"domain":[0,24500],"nice":false},"axis":{"title":"NA"}}}},
{"transform":[{"filter":"datum.r=='NA'&&datum.c=='PB1'"}],"mark":{"type":"bar","color":"#ff7f0e","clip":true},"encoding":{"x":{"field":"x","type":"quantitative","scale":{"domain":[-117,2458],"nice":false},"axis":{"values":[0,1000,2000],"title":null}},"y":{"field":"y","type":"quantitative","scale":{"domain":[0,24500],"nice":false},"axis":{"title":null}}}},
{"transform":[{"filter":"datum.r=='NA'&&datum.c=='PA'"}],"mark":{"type":"bar","color":"#2ca02c","clip":true},"encoding":{"x":{"field":"x","type":"quantitative","scale":{"domain":[-117,2458],"nice":false},"axis":{"values":[0,1000,2000],"title":null}},"y":{"field":"y","type":"quantitative","scale":{"domain":[0,24500],"nice":false},"axis":{"title":null}}}},
{"transform":[{"filter":"datum.r=='NA'&&datum.c=='HA'"}],"mark":{"type":"bar","color":"#d62728","clip":true},"encoding":{"x":{"field":"x","type":"quantitative","scale":{"domain":[-89,1867],"nice":false},"axis":{"values":[0,500,1000,1500],"title":null}},"y":{"field":"y","type":"quantitative","scale":{"domain":[0,24500],"nice":false},"axis":{"title":null}}}},
{"transform":[{"filter":"datum.r=='NA'&&datum.c=='NP'"}],"mark":{"type":"bar","color":"#e8c21a","clip":true},"encoding":{"x":{"field":"x","type":"quantitative","scale":{"domain":[-89,1867],"nice":false},"axis":{"values":[0,500,1000,1500],"title":null}},"y":{"field":"y","type":"quantitative","scale":{"domain":[0,24500],"nice":false},"axis":{"title":null}}}},
{"transform":[{"filter":"datum.r=='NA'&&datum.c=='NA'"}],"mark":{"type":"text","fontSize":13,"font":"DejaVu Sans Mono"},"encoding":{"text":{"field":"t"},"x":{"datum":706,"type":"quantitative","scale":{"domain":[-71,1484],"nice":false},"axis":{"values":[0,500,1000],"title":null}},"y":{"datum":12250,"type":"quantitative","scale":{"domain":[0,24500],"nice":false},"axis":{"title":null}}}},
{"transform":[{"filter":"datum.r=='NA'&&datum.c=='M'"}],"mark":{"type":"bar","color":"#9440c8","clip":true},"encoding":{"x":{"field":"x","type":"quantitative","scale":{"domain":[-71,1484],"nice":false},"axis":{"values":[0,500,1000],"title":null}},"y":{"field":"y","type":"quantitative","scale":{"domain":[0,24500],"nice":false},"axis":{"title":null}}}},
{"transform":[{"filter":"datum.r=='NA'&&datum.c=='NS'"}],"mark":{"type":"text","fontSize":13,"font":"DejaVu Sans Mono"},"encoding":{"text":{"field":"t"},"x":{"datum":706,"type":"quantitative","scale":{"domain":[-71,1484],"nice":false},"axis":{"values":[0,500,1000],"title":null}},"y":{"datum":12250,"type":"quantitative","scale":{"domain":[0,24500],"nice":false},"axis":{"title":null}}}},

{"transform":[{"filter":"datum.r=='M'&&datum.c=='PB2'"}],"mark":{"type":"bar","color":"#1f77b4","clip":true},"encoding":{"x":{"field":"x","type":"quantitative","scale":{"domain":[-117,2458],"nice":false},"axis":{"values":[0,1000,2000],"title":null}},"y":{"field":"y","type":"quantitative","scale":{"domain":[0,24500],"nice":false},"axis":{"title":"M"}}}},
{"transform":[{"filter":"datum.r=='M'&&datum.c=='PB1'"}],"mark":{"type":"bar","color":"#ff7f0e","clip":true},"encoding":{"x":{"field":"x","type":"quantitative","scale":{"domain":[-117,2458],"nice":false},"axis":{"values":[0,1000,2000],"title":null}},"y":{"field":"y","type":"quantitative","scale":{"domain":[0,24500],"nice":false},"axis":{"title":null}}}},
{"transform":[{"filter":"datum.r=='M'&&datum.c=='PA'"}],"mark":{"type":"bar","color":"#2ca02c","clip":true},"encoding":{"x":{"field":"x","type":"quantitative","scale":{"domain":[-117,2458],"nice":false},"axis":{"values":[0,1000,2000],"title":null}},"y":{"field":"y","type":"quantitative","scale":{"domain":[0,24500],"nice":false},"axis":{"title":null}}}},
{"transform":[{"filter":"datum.r=='M'&&datum.c=='HA'"}],"mark":{"type":"text","fontSize":13,"font":"DejaVu Sans Mono"},"encoding":{"text":{"field":"t"},"x":{"datum":889,"type":"quantitative","scale":{"domain":[-89,1867],"nice":false},"axis":{"values":[0,500,1000,1500],"title":null}},"y":{"datum":12250,"type":"quantitative","scale":{"domain":[0,24500],"nice":false},"axis":{"title":null}}}},
{"transform":[{"filter":"datum.r=='M'&&datum.c=='NP'"}],"mark":{"type":"bar","color":"#e8c21a","clip":true},"encoding":{"x":{"field":"x","type":"quantitative","scale":{"domain":[-89,1867],"nice":false},"axis":{"values":[0,500,1000,1500],"title":null}},"y":{"field":"y","type":"quantitative","scale":{"domain":[0,24500],"nice":false},"axis":{"title":null}}}},
{"transform":[{"filter":"datum.r=='M'&&datum.c=='NA'"}],"mark":{"type":"bar","color":"#7f7f7f","clip":true},"encoding":{"x":{"field":"x","type":"quantitative","scale":{"domain":[-71,1484],"nice":false},"axis":{"values":[0,500,1000],"title":null}},"y":{"field":"y","type":"quantitative","scale":{"domain":[0,24500],"nice":false},"axis":{"title":null}}}},
{"transform":[{"filter":"datum.r=='M'&&datum.c=='M'"}],"mark":{"type":"text","fontSize":13,"font":"DejaVu Sans Mono"},"encoding":{"text":{"field":"t"},"x":{"datum":513,"type":"quantitative","scale":{"domain":[-51,1078],"nice":false},"axis":{"values":[0,500,1000],"title":null}},"y":{"datum":12250,"type":"quantitative","scale":{"domain":[0,24500],"nice":false},"axis":{"title":null}}}},
{"transform":[{"filter":"datum.r=='M'&&datum.c=='NS'"}],"mark":{"type":"bar","color":"#111111","clip":true},"encoding":{"x":{"field":"x","type":"quantitative","scale":{"domain":[-51,1078],"nice":false},"axis":{"values":[0,500,1000],"title":null}},"y":{"field":"y","type":"quantitative","scale":{"domain":[0,24500],"nice":false},"axis":{"title":null}}}},

{"transform":[{"filter":"datum.r=='NS'&&datum.c=='PB2'"}],"mark":{"type":"bar","color":"#1f77b4","clip":true},"encoding":{"x":{"field":"x","type":"quantitative","scale":{"domain":[-117,2458],"nice":false},"axis":{"values":[0,1000,2000],"title":null}},"y":{"field":"y","type":"quantitative","scale":{"domain":[0,24500],"nice":false},"axis":{"title":"NS"}}}},
{"transform":[{"filter":"datum.r=='NS'&&datum.c=='PB1'"}],"mark":{"type":"bar","color":"#ff7f0e","clip":true},"encoding":{"x":{"field":"x","type":"quantitative","scale":{"domain":[-117,2458],"nice":false},"axis":{"values":[0,1000,2000],"title":null}},"y":{"field":"y","type":"quantitative","scale":{"domain":[0,24500],"nice":false},"axis":{"title":null}}}},
{"transform":[{"filter":"datum.r=='NS'&&datum.c=='PA'"}],"mark":{"type":"bar","color":"#2ca02c","clip":true},"encoding":{"x":{"field":"x","type":"quantitative","scale":{"domain":[-117,2458],"nice":false},"axis":{"values":[0,1000,2000],"title":null}},"y":{"field":"y","type":"quantitative","scale":{"domain":[0,24500],"nice":false},"axis":{"title":null}}}},
{"transform":[{"filter":"datum.r=='NS'&&datum.c=='HA'"}],"mark":{"type":"bar","color":"#d62728","clip":true},"encoding":{"x":{"field":"x","type":"quantitative","scale":{"domain":[-89,1867],"nice":false},"axis":{"values":[0,500,1000,1500],"title":null}},"y":{"field":"y","type":"quantitative","scale":{"domain":[0,24500],"nice":false},"axis":{"title":null}}}},
{"transform":[{"filter":"datum.r=='NS'&&datum.c=='NP'"}],"mark":{"type":"bar","color":"#e8c21a","clip":true},"encoding":{"x":{"field":"x","type":"quantitative","scale":{"domain":[-89,1867],"nice":false},"axis":{"values":[0,500,1000,1500],"title":null}},"y":{"field":"y","type":"quantitative","scale":{"domain":[0,24500],"nice":false},"axis":{"title":null}}}},
{"transform":[{"filter":"datum.r=='NS'&&datum.c=='NA'"}],"mark":{"type":"text","fontSize":13,"font":"DejaVu Sans Mono"},"encoding":{"text":{"field":"t"},"x":{"datum":706,"type":"quantitative","scale":{"domain":[-71,1484],"nice":false},"axis":{"values":[0,500,1000],"title":null}},"y":{"datum":12250,"type":"quantitative","scale":{"domain":[0,24500],"nice":false},"axis":{"title":null}}}},
{"transform":[{"filter":"datum.r=='NS'&&datum.c=='M'"}],"mark":{"type":"bar","color":"#9440c8","clip":true},"encoding":{"x":{"field":"x","type":"quantitative","scale":{"domain":[-51,1078],"nice":false},"axis":{"values":[0,500,1000],"title":null}},"y":{"field":"y","type":"quantitative","scale":{"domain":[0,24500],"nice":false},"axis":{"title":null}}}},
{"transform":[{"filter":"datum.r=='NS'&&datum.c=='NS'"}],"mark":{"type":"text","fontSize":13,"font":"DejaVu Sans Mono"},"encoding":{"text":{"field":"t"},"x":{"datum":445,"type":"quantitative","scale":{"domain":[-45,935],"nice":false},"axis":{"values":[0,250,500,750],"title":null}},"y":{"datum":12250,"type":"quantitative","scale":{"domain":[0,24500],"nice":false},"axis":{"title":null}}}}
],
"config":{
"numberFormat":"d",
"view":{"continuousWidth":81,"continuousHeight":48,"stroke":"#555","strokeWidth":0.8},
"bar":{"continuousBandSize":1.6,"opacity":0.85},
"axis":{"domain":false,"grid":false,"tickSize":3,"tickColor":"#555","tickWidth":0.8,"labelFontSize":5.5,"labelFont":"DejaVu Sans Mono","labelColor":"#555","labelPadding":2,"labelFlush":false,"labelOverlap":false},
"axisY":{"titleAngle":0,"titleAlign":"right","titleBaseline":"middle","titleX":-36,"titleY":24,"titleFontSize":14,"titleFont":"DejaVu Sans Mono","titleFontWeight":"normal","titleColor":"#000","labelPadding":3},
"title":{"fontSize":14,"font":"DejaVu Sans Mono","fontWeight":"normal","color":"#000","offset":6,"anchor":"middle"}
}
}
